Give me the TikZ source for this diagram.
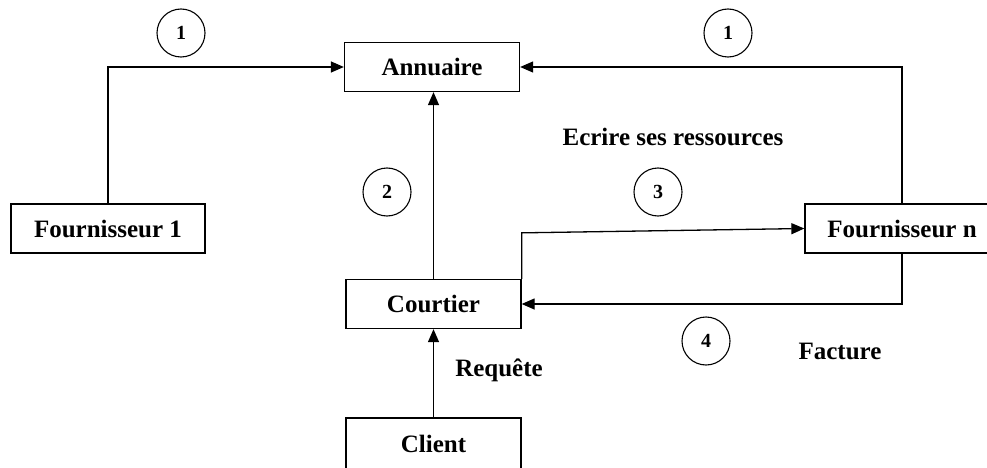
\documentclass[tikz,border=0pt]{standalone}
\usepackage{fontspec}
\setmainfont{Liberation Serif}
\usetikzlibrary{arrows.meta}

\begin{document}
\begin{tikzpicture}[x=1pt,y=-1pt,
  box/.style={draw,line width=1.3pt,inner sep=0pt,minimum height=49pt,
    font=\fontsize{25}{30}\selectfont\bfseries},
  midbox/.style={box,minimum width=175pt},
  sidebox/.style={box,minimum width=194pt},
  stepmark/.style={draw,circle,line width=1.1pt,minimum size=48pt,inner sep=0pt,
    font=\fontsize{20}{24}\selectfont\bfseries},
  lbl/.style={inner sep=0pt,font=\fontsize{25}{30}\selectfont\bfseries},
  link/.style={line width=1.3pt,-{Triangle[length=13pt,width=11pt]}}]

  \useasboundingbox (0,0) rectangle (987,468);
  \clip (0,0) rectangle (987,468);

  % actors
  \node[midbox]  (ann)  at (432,67)    {Annuaire};
  \node[sidebox] (f1)   at (108,228.5) {Fournisseur 1};
  \node[sidebox] (fn)   at (902,228.5) {Fournisseur n};
  \node[midbox]  (cour) at (433.5,304) {Courtier};
  \node[midbox,minimum height=52pt] (cli) at (433.5,444) {Client};

  % step numbers
  \node[stepmark] (s1a) at (181,33)  {1};
  \node[stepmark] (s1b) at (728,33)  {1};
  \node[stepmark] (s2)  at (387,192) {2};
  \node[stepmark] (s3)  at (658,192) {3};
  \node[stepmark] (s4)  at (706,341) {4};

  % flow labels
  \node[lbl] (lwrite) at (673,137) {Ecrire ses ressources};
  \node[lbl] (lreq)   at (499,370) {Requête};
  \node[lbl] (lbill)  at (840,351) {Facture};

  % connectors
  \draw[link] (f1.north) |- (ann.west);
  \draw[link] (fn.north) |- (ann.east);
  \draw[link] (cour.north) -- (cour.north |- ann.south);
  \draw[link] (cour.north east) -- ++(0,-46) -- (fn.west);
  \draw[link] (fn.south) |- (cour.east);
  \draw[link] (cli.north) -- (cour.south);
\end{tikzpicture}
\end{document}
